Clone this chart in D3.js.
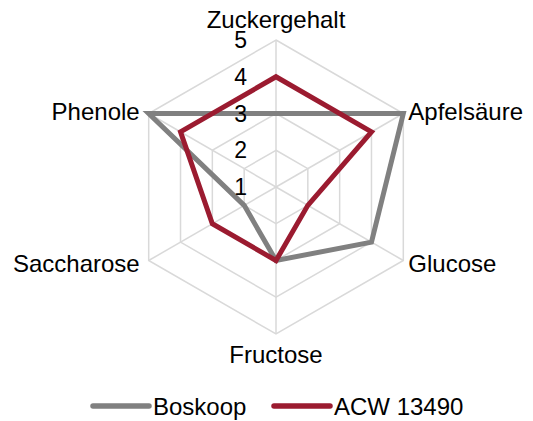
<!DOCTYPE html>
<html>
<head>
<meta charset="utf-8">
<script src="https://cdn.jsdelivr.net/npm/d3@7"></script>
<style>
  body { margin: 0; background: #fff; }
  text { font-family: "Liberation Sans", Arial, sans-serif; fill: #000; }
</style>
</head>
<body>
<div id="chart"></div>
<script>
// axes, clockwise from the top
const categories = ["Zuckergehalt", "Apfelsäure", "Glucose", "Fructose", "Saccharose", "Phenole"];
const boskoop = [3, 5, 4, 3, 2, 5];
const acw13490 = [4, 4, 2, 3, 3, 4];
const tickValues = [1, 2, 3, 4, 5];
const seriesNames = ["Boskoop", "ACW 13490"];
const seriesColors = ["#808080", "#9b1b30"];

const width = 533, height = 421;
const cx = 276, cy = 187;
const radius = 147;

const svg = d3.select("#chart").append("svg")
  .attr("width", width)
  .attr("height", height);

const r = d3.scaleLinear().domain([1, 5]).range([0, radius]);
const angle = d3.scalePoint().domain(categories).range([0, 2 * Math.PI * 5 / 6]);

function pt(cat, v) {
  const a = angle(cat);
  return [cx + r(v) * Math.sin(a), cy - r(v) * Math.cos(a)];
}

const g = svg.append("g");

// rings
g.selectAll(".ring")
  .data(tickValues.slice(1))
  .enter().append("polygon")
  .attr("class", "ring")
  .attr("points", v => categories.map(c => pt(c, v).join(",")).join(" "))
  .attr("fill", "none")
  .attr("stroke", "#d9d9d9")
  .attr("stroke-width", 1.5);

// spokes
g.selectAll(".spoke")
  .data(categories)
  .enter().append("line")
  .attr("x1", cx).attr("y1", cy)
  .attr("x2", c => pt(c, 5)[0])
  .attr("y2", c => pt(c, 5)[1])
  .attr("stroke", "#d9d9d9")
  .attr("stroke-width", 1.5);

// series
const line = d3.line().curve(d3.curveLinearClosed);
[boskoop, acw13490].forEach((vals, i) => {
  g.append("path")
    .attr("d", line(categories.map((c, j) => pt(c, vals[j]))))
    .attr("fill", "none")
    .attr("stroke", seriesColors[i])
    .attr("stroke-width", 5)
    .attr("stroke-linejoin", "miter");
});

// value labels along top axis
g.selectAll(".tick")
  .data(tickValues)
  .enter().append("text")
  .attr("x", cx - 29)
  .attr("y", v => cy - r(v))
  .attr("dy", "0.35em")
  .attr("text-anchor", "end")
  .style("font-size", "23px")
  .text(d => d);

// category labels
g.selectAll(".cat")
  .data(categories)
  .enter().append("text")
  .style("font-size", "24px")
  .attr("text-anchor", c => {
    const s = Math.sin(angle(c));
    return Math.abs(s) < 0.01 ? "middle" : (s > 0 ? "start" : "end");
  })
  .attr("x", c => {
    const s = Math.sin(angle(c));
    const p = pt(c, 5);
    return Math.abs(s) < 0.01 ? p[0] : p[0] + (s > 0 ? 5 : -9);
  })
  .attr("y", c => {
    const co = Math.cos(angle(c));
    const p = pt(c, 5);
    if (co > 0.99) return p[1] - 12;
    if (co < -0.99) return p[1] + 29;
    return p[1] + (co > 0 ? 6 : 11);
  })
  .text(d => d);

// legend
const legend = svg.append("g");
const legendX = [93, 274];
seriesNames.forEach((name, i) => {
  legend.append("line")
    .attr("x1", legendX[i]).attr("x2", legendX[i] + 56)
    .attr("y1", 406).attr("y2", 406)
    .attr("stroke", seriesColors[i])
    .attr("stroke-width", 5.5)
    .attr("stroke-linecap", "round");
  legend.append("text")
    .attr("x", legendX[i] + 60)
    .attr("y", 415)
    .style("font-size", "24px")
    .text(name);
});
</script>
</body>
</html>
